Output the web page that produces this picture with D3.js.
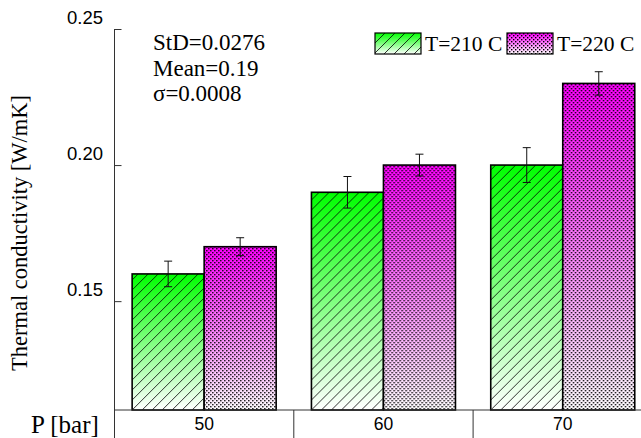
<!DOCTYPE html>
<html>
<head>
    <meta charset="utf-8">
    <title>Thermal conductivity vs pressure</title>
    <script src="https://d3js.org/d3.v7.min.js"></script>
    <style>
        body { margin: 0; background: #fff; }
        svg { display: block; overflow: hidden; }
    </style>
</head>
<body>
    <script>

        // data
        var pressures = ["50", "60", "70"];
        var series = ["T=210 C", "T=220 C"];
        var valuesT210 = [0.160, 0.190, 0.200];
        var valuesT220 = [0.170, 0.200, 0.230];
        var errorsT210 = [0.0047, 0.0058, 0.0064];
        var errorsT220 = [0.0033, 0.0040, 0.0043];
        var yTicks = [0.15, 0.20, 0.25];
        var notes = ["StD=0.0276", "Mean=0.19", "\u03c3=0.0008"];

        var rows = [];
        pressures.forEach(function(p, i) {
            rows.push({ p: p, s: series[0], k: 0, v: valuesT210[i], e: errorsT210[i] });
            rows.push({ p: p, s: series[1], k: 1, v: valuesT220[i], e: errorsT220[i] });
        });

        var W = 641, H = 438;
        var plotLeft = 114.5, plotTop = 29, base = 410;
        var step = 179.3;

        var svg = d3.select("body")
            .append("svg")
            .attr("width", W)
            .attr("height", H);

        var defs = svg.append("defs");

        // gradients, colour at the top fading to white at the bottom
        function grad(id, color) {
            var g = defs.append("linearGradient")
                .attr("id", id)
                .attr("x1", 0).attr("y1", 0).attr("x2", 0).attr("y2", 1);
            g.append("stop").attr("offset", "0%").attr("stop-color", color);
            g.append("stop").attr("offset", "100%").attr("stop-color", "#ffffff");
        }
        grad("gGreen", "#00ff00");
        grad("gMag", "#ff00ff");

        var hatch = defs.append("pattern")
            .attr("id", "hatch")
            .attr("patternUnits", "userSpaceOnUse")
            .attr("width", 10).attr("height", 10);
        hatch.append("path")
            .attr("d", "M-2,2 L2,-2 M0,10 L10,0 M8,12 L12,8")
            .attr("stroke", "#000")
            .attr("stroke-width", 0.8);

        var checker = defs.append("pattern")
            .attr("id", "checker")
            .attr("patternUnits", "userSpaceOnUse")
            .attr("width", 4).attr("height", 4);
        checker.append("rect").attr("x", 0).attr("y", 0).attr("width", 1.4).attr("height", 1.4).attr("fill", "#000");
        checker.append("rect").attr("x", 2).attr("y", 2).attr("width", 1.4).attr("height", 1.4).attr("fill", "#000");

        var fills = [["url(#gGreen)", "url(#hatch)"], ["url(#gMag)", "url(#checker)"]];

        var x0 = d3.scaleBand()
            .domain(pressures)
            .range([plotLeft, plotLeft + step * pressures.length]);

        var x1 = d3.scaleBand()
            .domain(series)
            .range([0, x0.bandwidth()])
            .paddingOuter(0.245);

        var y = d3.scaleLinear()
            .domain([0.11, 0.25])
            .range([base, plotTop]);

        // bars: gradient layer then pattern layer with outline
        var bars = svg.append("g").selectAll("g")
            .data(rows)
            .join("g")
            .attr("transform", function(d) { return "translate(" + (x0(d.p) + x1(d.s)) + ",0)"; });

        bars.append("rect")
            .attr("y", function(d) { return y(d.v); })
            .attr("width", x1.bandwidth())
            .attr("height", function(d) { return base - y(d.v); })
            .attr("fill", function(d) { return fills[d.k][0]; });

        bars.append("rect")
            .attr("y", function(d) { return y(d.v); })
            .attr("width", x1.bandwidth())
            .attr("height", function(d) { return base - y(d.v); })
            .attr("fill", function(d) { return fills[d.k][1]; })
            .attr("stroke", "#000")
            .attr("stroke-width", 1.6);

        // error bars
        var cx = x1.bandwidth() / 2;
        bars.append("path")
            .attr("d", function(d) {
                var a = y(d.v + d.e), b = y(d.v - d.e);
                return "M" + (cx - 4) + "," + a + "H" + (cx + 4) +
                       "M" + cx + "," + a + "V" + b +
                       "M" + (cx - 4) + "," + b + "H" + (cx + 4);
            })
            .attr("stroke", "#111")
            .attr("stroke-width", 1)
            .attr("fill", "none");

        // y axis, ticks pointing inward
        var yAxis = d3.axisRight(y)
            .tickValues(yTicks)
            .tickSize(7)
            .tickFormat("");

        svg.append("g")
            .attr("transform", "translate(" + plotLeft + ",0)")
            .call(yAxis)
            .call(function(g) { g.select(".domain").remove(); })
            .selectAll("line").attr("stroke", "#333");

        svg.append("line")
            .attr("x1", plotLeft).attr("x2", plotLeft)
            .attr("y1", plotTop).attr("y2", H)
            .attr("stroke", "#333");

        svg.append("g").selectAll("text")
            .data(yTicks)
            .join("text")
            .attr("x", 103)
            .attr("y", function(d) { return y(d) - 5; })
            .attr("text-anchor", "end")
            .style("font-family", "'Liberation Sans', Arial, sans-serif")
            .style("font-size", "18.5px")
            .text(function(d) { return d.toFixed(2); });

        // category axis
        svg.append("line")
            .attr("x1", plotLeft).attr("x2", W)
            .attr("y1", base).attr("y2", base)
            .attr("stroke", "#333");

        svg.append("g").selectAll("line")
            .data(pressures.slice(1))
            .join("line")
            .attr("x1", function(d) { return x0(d); })
            .attr("x2", function(d) { return x0(d); })
            .attr("y1", base).attr("y2", H)
            .attr("stroke", "#333");

        svg.append("g").selectAll("text")
            .data(pressures)
            .join("text")
            .attr("x", function(d) { return x0(d) + x0.bandwidth() / 2; })
            .attr("y", 430)
            .attr("text-anchor", "middle")
            .style("font-family", "'Liberation Sans', Arial, sans-serif")
            .style("font-size", "17.5px")
            .text(function(d) { return d; });

        var serif = "'Liberation Serif', 'Times New Roman', serif";

        svg.append("text")
            .attr("x", 31)
            .attr("y", 433)
            .style("font-family", serif)
            .style("font-size", "25px")
            .text("P [bar]");

        svg.append("text")
            .attr("transform", "translate(27,233) rotate(-90)")
            .attr("text-anchor", "middle")
            .style("font-family", serif)
            .style("font-size", "22.5px")
            .text("Thermal conductivity [W/mK]");

        // statistics note
        svg.append("g").selectAll("text")
            .data(notes)
            .join("text")
            .attr("x", 153)
            .attr("y", function(d, i) { return 50 + i * 25.5; })
            .style("font-family", serif)
            .style("font-size", "23px")
            .text(function(d) { return d; });

        // legend
        var legX = [375, 507];
        var leg = svg.append("g").selectAll("g")
            .data(series)
            .join("g")
            .attr("transform", function(d, i) { return "translate(" + legX[i] + ",33)"; });

        leg.append("rect")
            .attr("width", 46).attr("height", 21)
            .attr("fill", function(d, i) { return fills[i][0]; });
        leg.append("rect")
            .attr("width", 46).attr("height", 21)
            .attr("fill", function(d, i) { return fills[i][1]; })
            .attr("stroke", "#000")
            .attr("stroke-width", 1.2);
        leg.append("text")
            .attr("x", 50)
            .attr("y", 18)
            .style("font-family", serif)
            .style("font-size", "21.5px")
            .text(function(d) { return d; });

    </script>
</body>
</html>
